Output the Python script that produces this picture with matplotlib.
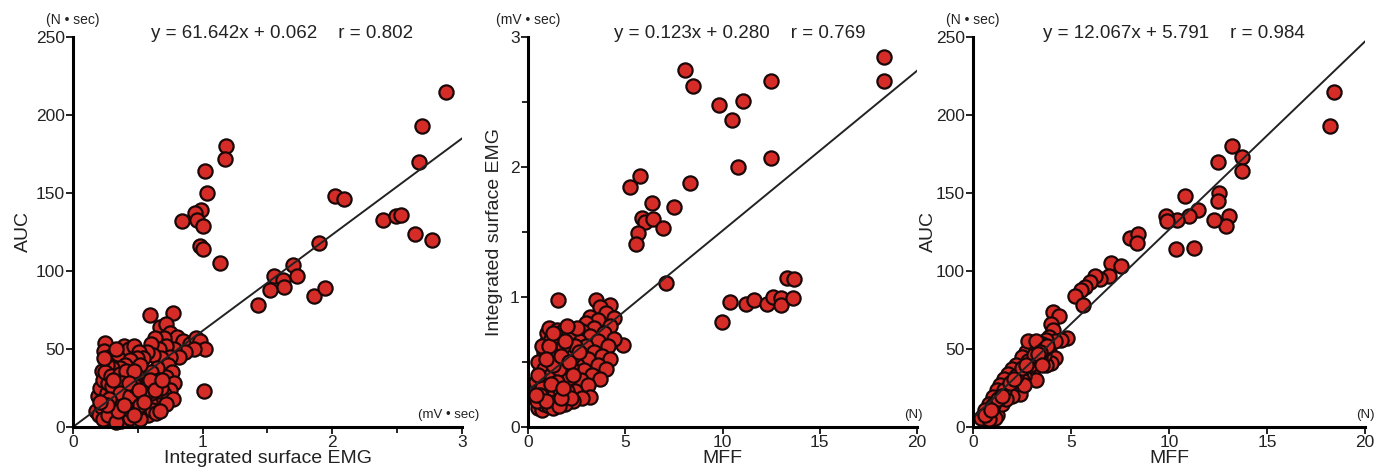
import matplotlib
matplotlib.use("Agg")
import matplotlib.pyplot as plt
from matplotlib.ticker import MultipleLocator

plt.rcParams["font.family"] = ["Liberation Sans", "DejaVu Sans"]

# ---- panel 1: integrated surface EMG (mV*sec) vs AUC (N*sec)
emg_1 = [2.88, 2.69, 2.67, 1.18, 1.17, 1.02, 1.03, 0.99, 0.94, 0.96, 1.00, 0.84, 0.98, 1.00, 1.13,
         2.02, 2.09, 2.39, 2.49, 2.53, 2.64, 2.77, 1.90, 1.70, 1.73, 1.55, 1.62, 1.63, 1.52, 1.43,
         1.86, 1.94, 1.01,
         0.59, 0.77, 0.67, 0.72, 0.75, 0.80, 0.70, 0.63, 0.85, 0.90, 0.95, 0.98, 1.02, 0.93, 0.86,
         0.78, 0.72, 0.66, 0.60, 0.82, 0.75, 0.68, 0.62, 0.57,
         0.73, 0.76, 0.72, 0.78, 0.75, 0.70, 0.77, 0.65, 0.60, 0.66, 0.62, 0.68, 0.57, 0.63, 0.58,
         0.66, 0.72, 0.55,
         0.25, 0.24, 0.28, 0.32, 0.35, 0.39, 0.43, 0.47, 0.51, 0.54, 0.49, 0.44, 0.40, 0.36, 0.30,
         0.26, 0.22, 0.33, 0.52,
         0.18, 0.20, 0.22, 0.19, 0.21, 0.23, 0.24, 0.26, 0.27, 0.28, 0.29, 0.30, 0.31, 0.32, 0.33,
         0.34, 0.35, 0.36, 0.37, 0.38, 0.39, 0.40, 0.41, 0.42, 0.43, 0.44, 0.45, 0.46, 0.47, 0.48,
         0.49, 0.50, 0.51, 0.52, 0.53, 0.54, 0.55, 0.56, 0.57, 0.58, 0.59, 0.60, 0.61, 0.64, 0.67,
         0.25, 0.29, 0.36, 0.41, 0.47, 0.23, 0.27, 0.33, 0.44, 0.52,
         0.30, 0.34, 0.38, 0.42, 0.46, 0.50, 0.54, 0.58, 0.32, 0.36, 0.40, 0.44, 0.48, 0.52, 0.56,
         0.60, 0.28, 0.31, 0.35, 0.39, 0.43, 0.47, 0.51, 0.55, 0.59, 0.63, 0.69, 0.26, 0.21, 0.24]
auc_1 = [215, 193, 170, 180, 172, 164, 150, 139, 137, 133, 129, 132, 116, 114, 105,
         148, 146, 133, 135, 136, 124, 120, 118, 104, 97, 97, 94, 90, 88, 78,
         84, 89, 23,
         72, 73, 64, 66, 60, 58, 57, 57, 55, 53, 57, 55, 50, 50, 48,
         50, 52, 50, 53, 45, 45, 44, 46, 48,
         40, 35, 32, 28, 24, 21, 18, 38, 35, 30, 27, 25, 22, 18, 14,
         14, 15, 30,
         54, 49, 45, 42, 47, 52, 50, 52, 48, 44, 44, 43, 40, 38, 38,
         40, 36, 50, 40,
         10, 8, 13, 20, 25, 30, 18, 22, 28, 12, 6, 17, 24, 32, 10,
         20, 27, 14, 4, 22, 30, 18, 9, 25, 33, 14, 21, 28, 11, 18,
         24, 32, 15, 9, 21, 27, 12, 18, 25, 8, 16, 22, 11, 9, 10,
         35, 33, 34, 36, 36, 5, 8, 3, 6, 5,
         26, 12, 28, 16, 24, 12, 18, 28, 15, 22, 12, 20, 26, 14, 22,
         28, 18, 30, 10, 14, 28, 8, 24, 16, 30, 24, 30, 14, 16, 44]

# ---- panel 2: MFF (N) vs integrated surface EMG (mV*sec)
mff_2 = [18.3, 18.3, 8.07, 8.5, 12.5, 9.8, 11.05, 10.5, 12.5, 10.8, 5.24, 5.76, 8.33, 6.38, 7.5,
         5.86, 6.0, 6.43, 6.94, 5.66, 5.55, 7.1, 13.3, 13.7, 9.97, 10.4, 11.2, 11.6, 12.3, 12.6,
         13.0, 13.0, 13.6, 1.54,
         3.5, 4.2, 3.7, 4.0, 4.4, 3.2, 3.6, 4.2, 3.0, 3.4, 3.9, 4.9, 4.4, 2.8, 3.2,
         3.6, 4.1, 2.6, 3.0, 3.4, 3.8, 4.2, 2.7, 3.1, 3.6, 4.0, 2.5, 2.9, 3.3, 3.7,
         2.7, 3.1, 2.4, 3.2, 2.8, 2.3,
         0.4, 0.5, 0.6, 0.5, 0.7, 0.8, 0.6, 0.7, 0.8, 0.9, 1.0, 1.1, 0.9, 1.0, 1.1,
         1.2, 1.3, 1.4, 1.5, 1.2, 1.3, 1.4, 1.5, 1.6, 1.7, 1.8, 1.5, 1.6, 1.7, 1.8,
         1.9, 2.0, 2.1, 1.9, 2.0, 2.1, 2.2, 2.3, 2.4, 1.1, 1.3, 0.8, 1.0, 1.2, 0.7,
         2.2, 2.5, 2.0, 1.6, 0.5, 0.45,
         0.6, 0.8, 1.0, 1.2, 1.4, 1.6, 1.8, 0.7, 0.9, 1.1, 1.3, 1.5, 1.7, 1.9, 2.1,
         0.5, 0.9, 1.3, 1.7, 2.3, 2.6, 0.4, 1.2, 1.8]
emg_2 = [2.85, 2.66, 2.75, 2.62, 2.66, 2.48, 2.51, 2.36, 2.07, 2.00, 1.85, 1.93, 1.88, 1.72, 1.69,
         1.61, 1.58, 1.60, 1.53, 1.49, 1.41, 1.11, 1.15, 1.14, 0.81, 0.96, 0.95, 0.98, 0.95, 1.00,
         0.99, 0.94, 0.99, 0.98,
         0.98, 0.94, 0.92, 0.88, 0.84, 0.85, 0.82, 0.78, 0.80, 0.76, 0.72, 0.63, 0.68, 0.74, 0.70,
         0.66, 0.62, 0.66, 0.62, 0.58, 0.55, 0.52, 0.56, 0.52, 0.48, 0.45, 0.48, 0.44, 0.40, 0.37,
         0.36, 0.32, 0.28, 0.23, 0.22, 0.20,
         0.35, 0.28, 0.22, 0.15, 0.13, 0.18, 0.42, 0.50, 0.58, 0.65, 0.72, 0.76, 0.30, 0.40, 0.48,
         0.55, 0.62, 0.70, 0.75, 0.25, 0.35, 0.45, 0.52, 0.60, 0.68, 0.74, 0.20, 0.30, 0.40,
         0.48, 0.56, 0.64, 0.72, 0.18, 0.28, 0.38, 0.46, 0.55, 0.62, 0.16, 0.15, 0.38, 0.58, 0.68,
         0.30, 0.22, 0.76, 0.78, 0.16, 0.50, 0.20,
         0.25, 0.45, 0.52, 0.40, 0.58, 0.45, 0.62, 0.62, 0.20, 0.62, 0.48, 0.35, 0.55, 0.66, 0.50,
         0.40, 0.52, 0.72, 0.22, 0.40, 0.58, 0.25, 0.33, 0.30]

# ---- panel 3: MFF (N) vs AUC (N*sec)
mff_3 = [18.4, 18.2, 13.2, 13.7, 13.7, 12.5, 12.55, 12.5, 13.06, 12.9, 12.3, 10.8, 11.5, 11.0, 10.4,
         9.85, 9.9, 10.35, 11.3, 8.0, 8.4, 8.35, 7.05, 7.55, 6.95, 6.5, 6.2, 5.97, 5.7, 5.5,
         5.2, 5.6,
         4.1, 4.4, 4.0, 4.1, 3.9, 4.8, 4.5, 4.2, 3.7, 3.5, 3.3, 3.1, 2.9, 2.7, 2.5,
         2.3, 2.1, 1.9, 1.7, 1.5, 1.3, 1.1, 0.9, 0.7, 0.5, 0.4,
         3.9, 4.2, 4.0, 3.7, 3.6, 3.4, 3.06, 3.0, 2.8, 3.2, 2.6, 2.45, 2.4, 2.2, 2.0,
         1.8, 1.6, 1.4, 1.2, 1.0, 1.1, 0.8,
         3.4, 3.0, 2.7, 2.5, 2.2, 2.0, 1.8, 1.6, 1.4, 1.2, 1.0, 0.8, 0.6,
         2.8, 3.2, 3.6, 3.8, 2.9, 2.5, 2.0, 1.5, 1.7, 2.6,
         1.0, 1.3, 1.6, 1.9, 2.2, 2.5, 2.8, 3.1, 3.4, 0.6, 0.9, 1.5, 2.1, 2.7, 3.3, 3.5]
auc_3 = [215, 193, 180, 173, 164, 170, 150, 145, 135, 129, 133, 148, 139, 135, 133,
         135, 132, 114, 115, 121, 124, 118, 105, 103, 97, 95, 97, 93, 90, 88,
         84, 78,
         74, 71, 66, 62, 58, 57, 56, 55, 56, 53, 51, 49, 46, 43, 40,
         37, 34, 31, 28, 25, 21, 17, 13, 10, 7, 6,
         48, 44, 41, 40, 46, 44, 37, 42, 37, 30, 33, 36, 21, 28, 26,
         24, 21, 18, 8, 7, 6, 5,
         53, 51, 48, 45, 40, 37, 34, 31, 27, 24, 19, 15, 11,
         55, 55, 50, 52, 40, 30, 20, 15, 18, 27,
         14, 18, 24, 28, 33, 38, 42, 46, 48, 8, 11, 20, 31, 40, 47, 40]

# regression lines: (slope, intercept, r)
fits = [(61.642, 0.062, 0.802), (0.123, 0.280, 0.769), (12.067, 5.791, 0.984)]

W, H = 1392, 474
fig = plt.figure(figsize=(W / 100, H / 100), dpi=100)

panels = [
    dict(x=emg_1, y=auc_1, box=(73, 37, 462, 427), xlim=3, ylim=250, xmaj=1, xmin=0.5, ymaj=50, ymin=None,
         xlabel="Integrated surface EMG", ylabel="AUC", yunit="(N \u2022 sec)", xunit="(mV \u2022 sec)",
         eqx=0.537, ux=0.966, ylx=-0.105),
    dict(x=mff_2, y=emg_2, box=(528, 37, 917, 427), xlim=20, ylim=3, xmaj=5, xmin=None, ymaj=1, ymin=0.5,
         xlabel="MFF", ylabel="Integrated surface EMG", yunit="(mV \u2022 sec)", xunit="(N)",
         eqx=0.545, ux=0.99, ylx=-0.064),
    dict(x=mff_3, y=auc_3, box=(973, 37, 1365, 427), xlim=20, ylim=250, xmaj=5, xmin=None, ymaj=50, ymin=None,
         xlabel="MFF", ylabel="AUC", yunit="(N \u2022 sec)", xunit="(N)",
         eqx=0.513, ux=1.0, ylx=-0.092),
]

txt = "#222222"
for p, (a, b, r) in zip(panels, fits):
    x0, y0, x1, y1 = p["box"]
    ax = fig.add_axes([x0 / W, 1 - y1 / H, (x1 - x0) / W, (y1 - y0) / H])
    ax.scatter(p["x"], p["y"], s=105, c="#d62c28", edgecolors="#1a0808", linewidths=1.6,
               zorder=3, clip_on=False)
    ax.plot([0, p["xlim"]], [b, a * p["xlim"] + b], color="#222222", lw=1.4, zorder=4)

    ax.set_xlim(0, p["xlim"])
    ax.set_ylim(0, p["ylim"])
    ax.xaxis.set_major_locator(MultipleLocator(p["xmaj"]))
    ax.yaxis.set_major_locator(MultipleLocator(p["ymaj"]))
    if p["xmin"]:
        ax.xaxis.set_minor_locator(MultipleLocator(p["xmin"]))
    if p["ymin"]:
        ax.yaxis.set_minor_locator(MultipleLocator(p["ymin"]))

    for s in ("top", "right"):
        ax.spines[s].set_visible(False)
    for s in ("left", "bottom"):
        ax.spines[s].set_linewidth(2.2)
        ax.spines[s].set_zorder(5)
    ax.tick_params(which="major", length=5, width=1.4, pad=1, labelsize=12.5, colors=txt)
    ax.tick_params(which="minor", length=4, width=1.2)

    ax.set_xlabel(p["xlabel"], fontsize=14, color=txt)
    ax.xaxis.set_label_coords(0.5, -0.06)
    ax.set_ylabel(p["ylabel"], fontsize=14, color=txt)
    ax.yaxis.set_label_coords(p["ylx"], 0.5)

    ax.text(0, 1.026, p["yunit"], transform=ax.transAxes, ha="center", va="bottom",
            fontsize=10, color=txt)
    ax.text(p["ux"], 0.015, p["xunit"], transform=ax.transAxes, ha="center", va="bottom",
            fontsize=9.5, color=txt)
    ax.text(p["eqx"], 1.01, f"y = {a:.3f}x + {b:.3f}    r = {r:.3f}", transform=ax.transAxes,
            ha="center", va="center", fontsize=13.5, color=txt)

fig.savefig("out.png", dpi=100)
